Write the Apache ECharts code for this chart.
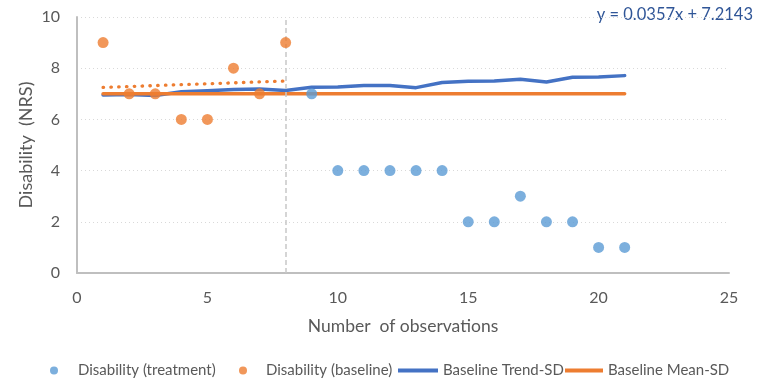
<!DOCTYPE html>
<html>
<head>
<meta charset="utf-8">
<script src="https://cdn.jsdelivr.net/npm/echarts@6/dist/echarts.min.js"></script>
<style>
  html, body { margin: 0; padding: 0; background: #ffffff; }
  #chart { width: 760px; height: 382px; }
</style>
</head>
<body>
<div id="chart"></div>
<script>
// Observation numbers and disability scores (NRS)
const baselineX = [1, 2, 3, 4, 5, 6, 7, 8];
const baselineY = [9, 7, 7, 6, 6, 8, 7, 9];
const treatmentX = [9, 10, 11, 12, 13, 14, 15, 16, 17, 18, 19, 20, 21];
const treatmentY = [7, 4, 4, 4, 4, 4, 2, 2, 3, 2, 2, 1, 1];

// Reference lines across all observations
const refX = [1, 2, 3, 4, 5, 6, 7, 8, 9, 10, 11, 12, 13, 14, 15, 16, 17, 18, 19, 20, 21];
const trendSdY = [6.95, 6.97, 6.93, 7.08, 7.12, 7.17, 7.19, 7.13, 7.26, 7.27, 7.32,
                  7.32, 7.24, 7.44, 7.49, 7.50, 7.57, 7.46, 7.65, 7.66, 7.71];
const meanSdY = [7, 7, 7, 7, 7, 7, 7, 7, 7, 7, 7, 7, 7, 7, 7, 7, 7, 7, 7, 7, 7];

// Linear trend of the baseline phase
const trendSlope = 0.0357;
const trendIntercept = 7.2143;
const trendX = [1, 8];

// Phase change marker
const phaseChangeX = 8;

const xTicks = { min: 0, max: 25, interval: 5 };
const yTicks = { min: 0, max: 10, interval: 2 };

const pairs = (xs, ys) => xs.map((x, i) => [x, ys[i]]);
const trendPts = trendX.map(x => [x, trendIntercept + trendSlope * x]);

const FONT = 'Lato';
const TEXT = '#595959';
const BLUE_DOT = '#5b9bd5';
const ORANGE = '#ed7d31';
const BLUE_LINE = '#4472c4';

// One legend block per entry so each can be spaced independently
function legendBlock(name, icon, left, w, h, padLeft) {
  return {
    data: [{ name: name, icon: icon }],
    left: left, top: 363, padding: 0,
    itemWidth: w, itemHeight: h,
    textStyle: { color: TEXT, fontSize: 15, fontFamily: FONT, padding: [0, 0, 0, padLeft] }
  };
}

const chart = echarts.init(document.getElementById('chart'), null, { renderer: 'canvas' });
chart.setOption({
  animation: false,
  textStyle: { fontFamily: FONT },
  grid: { left: 77, right: 31, top: 17, bottom: 109, containLabel: false },
  xAxis: {
    type: 'value',
    min: xTicks.min, max: xTicks.max, interval: xTicks.interval,
    name: 'Number  of observations',
    nameLocation: 'middle',
    nameGap: 44,
    nameTextStyle: { color: TEXT, fontSize: 17.5, fontFamily: FONT },
    axisLine: { show: true, lineStyle: { color: '#bfbfbf', width: 2 } },
    axisTick: { show: false },
    axisLabel: { color: TEXT, fontSize: 16, margin: 17, fontFamily: FONT },
    splitLine: { show: false }
  },
  yAxis: {
    type: 'value',
    min: yTicks.min, max: yTicks.max, interval: yTicks.interval,
    name: 'Disability  (NRS)',
    nameLocation: 'middle',
    nameMoveOverlap: false,
    nameGap: 42,
    nameTextStyle: { color: TEXT, fontSize: 18, fontFamily: FONT },
    axisLine: { show: true, lineStyle: { color: '#bfbfbf', width: 2 } },
    axisTick: { show: false },
    axisLabel: { color: TEXT, fontSize: 16, margin: 17, fontFamily: FONT },
    splitLine: { show: true, lineStyle: { color: '#d9d9d9', type: [1, 3], width: 1 } }
  },
  legend: [
    legendBlock('Disability (treatment)', 'circle', 50, 8, 8, 15),
    legendBlock('Disability (baseline)', 'circle', 239, 8, 8, 14),
    legendBlock('Baseline Trend-SD', 'rect', 398, 40, 4, 0),
    legendBlock('Baseline Mean-SD', 'rect', 565, 38, 4, 0)
  ],
  graphic: [
    {
      type: 'text',
      right: 7, top: 6,
      style: {
        text: 'y = 0.0357x + 7.2143',
        fill: '#2f5597',
        font: '16.5px ' + FONT
      }
    }
  ],
  series: [
    {
      name: 'Disability (treatment)',
      type: 'scatter',
      z: 5,
      symbol: 'circle',
      symbolSize: 11,
      itemStyle: { color: BLUE_DOT },
      data: pairs(treatmentX, treatmentY)
    },
    {
      name: 'Disability (baseline)',
      type: 'scatter',
      z: 5,
      symbol: 'circle',
      symbolSize: 11,
      itemStyle: { color: ORANGE },
      data: pairs(baselineX, baselineY)
    },
    {
      name: 'Baseline Trend-SD',
      type: 'line',
      z: 2,
      showSymbol: false,
      symbol: 'none',
      lineStyle: { color: BLUE_LINE, width: 3.5, cap: 'round', join: 'round' },
      itemStyle: { color: BLUE_LINE },
      data: pairs(refX, trendSdY),
      markLine: {
        silent: true,
        symbol: ['none', 'none'],
        label: { show: false },
        lineStyle: { color: '#c8c8c8', type: [5, 3], width: 1.5 },
        data: [{ xAxis: phaseChangeX }]
      }
    },
    {
      name: 'Baseline Mean-SD',
      type: 'line',
      z: 3,
      showSymbol: false,
      symbol: 'none',
      lineStyle: { color: ORANGE, width: 3.5, cap: 'round' },
      itemStyle: { color: ORANGE },
      data: pairs(refX, meanSdY)
    },
    {
      name: 'Baseline trend',
      type: 'line',
      z: 3,
      showSymbol: false,
      symbol: 'none',
      lineStyle: { color: ORANGE, width: 3.3, type: [0.5, 7.3], cap: 'round' },
      data: trendPts
    }
  ]
});
</script>
</body>
</html>
